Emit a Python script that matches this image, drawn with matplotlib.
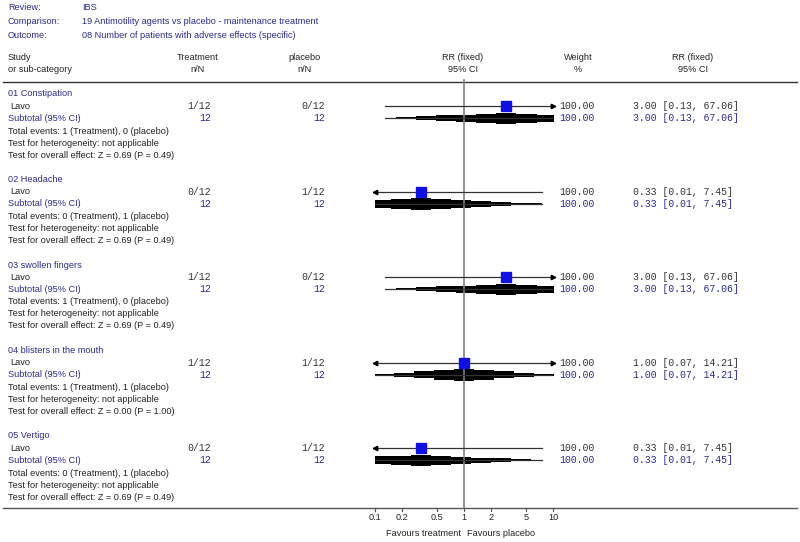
import numpy as np
import matplotlib
matplotlib.use("Agg")
import matplotlib.pyplot as plt

# Forest plot data
review = "IBS"
comparison = "19 Antimotility agents vs placebo - maintenance treatment"
outcome = "08 Number of patients with adverse effects (specific)"

groups = ["01 Constipation", "02 Headache", "03 swollen fingers",
          "04 blisters in the mouth", "05 Vertigo"]
study = "Lavo"
treat_events = [1, 0, 1, 1, 0]
treat_n = [12, 12, 12, 12, 12]
placebo_events = [0, 1, 0, 1, 1]
placebo_n = [12, 12, 12, 12, 12]
rr = [3.00, 0.33, 3.00, 1.00, 0.33]
ci_lo = [0.13, 0.01, 0.13, 0.07, 0.01]
ci_hi = [67.06, 7.45, 67.06, 14.21, 7.45]
weights = [100.00, 100.00, 100.00, 100.00, 100.00]
z_vals = [0.69, 0.69, 0.69, 0.00, 0.69]
p_vals = [0.49, 0.49, 0.49, 1.00, 0.49]
ticks = [0.1, 0.2, 0.5, 1, 2, 5, 10]
tick_labels = ["0.1", "0.2", "0.5", "1", "2", "5", "10"]

NAVY = "#2b2b8c"
DARK = "#222222"
MONO_C = "#333333"
SANS = "Liberation Sans"
MONO = "Liberation Mono"
FS = 6.6
FM = 7.1

fig = plt.figure(figsize=(8, 5.42), dpi=100)

# background axes in pixel coordinates for the table text
bg = fig.add_axes([0, 0, 1, 1])
bg.set_xlim(0, 800)
bg.set_ylim(542, 0)
bg.axis("off")

# forest axes: log scale, 0.1 at x=375px, 10 at x=553px
ax = fig.add_axes([375 / 800, 0, (553 - 375) / 800, 1])
ax.set_xscale("log")
ax.set_xlim(0.1, 10)
ax.set_ylim(542, 0)
ax.axis("off")


def txt(x, y, s, color=DARK, ha="left", mono=False):
    bg.text(x, y, s, color=color, ha=ha, va="center",
            fontsize=FM if mono else FS, family=MONO if mono else SANS)


# header
for i, (lab, val) in enumerate([("Review:", review), ("Comparison:", comparison),
                                ("Outcome:", outcome)]):
    txt(8, 7 + 14 * i, lab, color=NAVY)
    txt(82, 7 + 14 * i, val, color=NAVY)

txt(8, 57, "Study")
txt(8, 70, "or sub-category")
for x, a, b in [(198, "Treatment", "n/N"), (305, "placebo", "n/N"),
                (463, "RR (fixed)", "95% CI"), (578, "Weight", "%"),
                (693, "RR (fixed)", "95% CI")]:
    txt(x, 57, a, ha="center")
    txt(x, 70, b, ha="center")

bg.plot([3, 797], [82, 82], color="#333333", lw=1)
bg.plot([3, 797], [508, 508], color="#555555", lw=1)

# line of no effect
ax.plot([1, 1], [80, 508], color="#808080", lw=1.2, clip_on=False)

H = 11.5      # diamond height in px
step = 0.225  # step width in decades

for i, g in enumerate(groups):
    y0 = 94 + 85.5 * i
    y_st, y_sub = y0 + 12.2, y0 + 24.4
    txt(8, y0, g, color=NAVY)
    txt(10, y_st, study)
    txt(211, y_st, f"{treat_events[i]}/{treat_n[i]}", ha="right", mono=True, color=MONO_C)
    txt(325, y_st, f"{placebo_events[i]}/{placebo_n[i]}", ha="right", mono=True, color=MONO_C)
    txt(559, y_st, f"{weights[i]:.2f}", mono=True, color=MONO_C)
    ci_txt = f"{rr[i]:.2f} [{ci_lo[i]:.2f}, {ci_hi[i]:.2f}]"
    txt(633, y_st, ci_txt, mono=True, color=MONO_C)

    txt(8, y_sub, "Subtotal (95% CI)", color=NAVY)
    txt(211, y_sub, f"{treat_n[i]}", ha="right", mono=True, color=NAVY)
    txt(325, y_sub, f"{placebo_n[i]}", ha="right", mono=True, color=NAVY)
    txt(559, y_sub, f"{weights[i]:.2f}", mono=True, color=NAVY)
    txt(633, y_sub, ci_txt, mono=True, color=NAVY)

    txt(8, y0 + 37, f"Total events: {treat_events[i]} (Treatment), "
                    f"{placebo_events[i]} (placebo)")
    txt(8, y0 + 49, "Test for heterogeneity: not applicable")
    txt(8, y0 + 61, f"Test for overall effect: Z = {z_vals[i]:.2f} "
                    f"(P = {p_vals[i]:.2f})")

    # study CI line with arrows where clipped
    lo, hi = max(ci_lo[i], 0.1), min(ci_hi[i], 10)
    ax.plot([lo, hi], [y_st, y_st], color="#333333", lw=0.9)
    if ci_lo[i] < 0.1:
        ax.plot([0.1], [y_st], marker="<", ms=3.2, color="black", clip_on=False)
    if ci_hi[i] > 10:
        ax.plot([10], [y_st], marker=">", ms=3.2, color="black", clip_on=False)
    ax.plot([rr[i]], [y_st], marker="s", ms=7.6, color="#1010e0",
            markeredgecolor="#1010e0", zorder=5)

    # subtotal diamond (stepped, clipped to axis range)
    c = np.log10(rr[i])
    L = c - np.log10(ci_lo[i])
    R = np.log10(ci_hi[i]) - c
    ax.plot([ci_lo[i], ci_hi[i]], [y_sub, y_sub], color="#333333", lw=0.9)
    for k in range(-8, 9):
        a, b = c + (k - 0.5) * step, c + (k + 0.5) * step
        m = c + k * step
        half = L if m < c else R
        a, b = max(a, c - L), min(b, c + R)
        if a >= b:
            continue
        h = max(H * (1 - abs(m - c) / half), 1.5)
        ax.fill_between([10 ** a, 10 ** b], y_sub - h / 2, y_sub + h / 2,
                        color="black", lw=0)

# bottom scale
for t, lab in zip(ticks, tick_labels):
    ax.plot([t, t], [508, 511], color="#555555", lw=0.8, clip_on=False)
    ax.text(t, 517, lab, ha="center", va="center", fontsize=FS,
            family=SANS, color=DARK, clip_on=False)
ax.text(0.93, 533, "Favours treatment", ha="right", va="center",
        fontsize=FS, family=SANS, color=DARK)
ax.text(1.07, 533, "Favours placebo", ha="left", va="center",
        fontsize=FS, family=SANS, color=DARK)

fig.savefig("out.png", dpi=100)
